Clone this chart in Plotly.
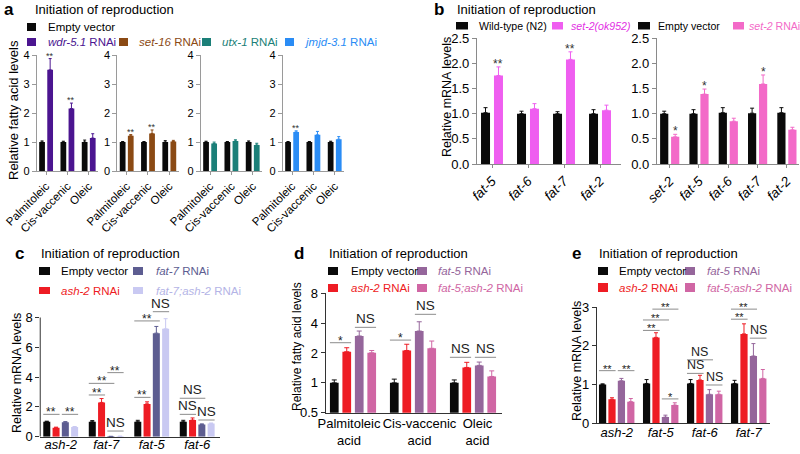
import math
import plotly.graph_objects as go

W, H = 800, 454
FONT = "Liberation Sans, Arial, Helvetica, sans-serif"

# ---------------- colours ----------------
BLACK = "#0a0a0a"
PURPLE_A = "#4b1590"
BROWN = "#8b4a14"
TEAL = "#1b7f78"
BLUE = "#2a8cf5"
MAGENTA = "#ef5ef0"
MAGENTA_T = "#e22ee3"
PINK = "#f36ac8"
RED = "#ee1c24"
SLATE = "#5d5d91"
LAVENDER = "#c9c9f2"
LAVENDER_T = "#b4b4e6"
MAUVE = "#95669b"
PINK2 = "#d066a4"

# ---------------- data: panel a ----------------
a_acids = ["Palmitoleic", "Cis-vaccenic", "Oleic"]
a_rnai_names = ["wdr-5.1", "set-16", "utx-1", "jmjd-3.1"]
a_ev = [[1.0, 1.0, 1.0], [1.0, 1.0, 1.0], [1.0, 1.0, 1.0], [1.0, 1.0, 1.0]]
a_ev_err = [[0.04, 0.03, 0.07], [0.02, 0.02, 0.05], [0.03, 0.02, 0.04], [0.02, 0.02, 0.03]]
a_rnai = [[3.5, 2.16, 1.14], [1.22, 1.3, 1.02], [0.95, 1.04, 0.9], [1.35, 1.25, 1.1]]
a_rnai_err = [[0.39, 0.19, 0.15], [0.04, 0.12, 0.04], [0.05, 0.04, 0.06], [0.04, 0.12, 0.09]]
a_sig = [["**", "**", ""], ["**", "**", ""], ["", "", ""], ["**", "", ""]]
a_yticks = [0, 1, 2, 3, 4]

# ---------------- data: panel b ----------------
b1_genes = ["fat-5", "fat-6", "fat-7", "fat-2"]
b1_wt = [1.02, 1.0, 1.0, 1.0]
b1_wt_err = [0.1, 0.05, 0.04, 0.08]
b1_mut = [1.76, 1.1, 2.08, 1.07]
b1_mut_err = [0.17, 0.1, 0.15, 0.1]
b1_sig = ["**", "", "**", ""]
b2_genes = ["set-2", "fat-5", "fat-6", "fat-7", "fat-2"]
b2_ev = [1.0, 1.0, 1.02, 1.01, 1.02]
b2_ev_err = [0.05, 0.08, 0.1, 0.1, 0.1]
b2_rnai = [0.54, 1.39, 0.85, 1.59, 0.68]
b2_rnai_err = [0.05, 0.1, 0.06, 0.18, 0.05]
b2_sig = ["*", "*", "", "*", ""]
b_yticks = [0, 0.5, 1.0, 1.5, 2.0, 2.5]

# ---------------- data: panel c ----------------
c_genes = ["ash-2", "fat-7", "fat-5", "fat-6"]
c_ev = [1.0, 1.0, 1.0, 1.0]
c_ev_err = [0.04, 0.08, 0.1, 0.1]
c_ash2 = [0.6, 2.3, 2.2, 1.12]
c_ash2_err = [0.04, 0.26, 0.14, 0.14]
c_fat7 = [0.97, 0.02, 6.95, 0.82]
c_fat7_err = [0.04, 0.0, 0.45, 0.04]
c_fat7ash2 = [0.65, 0.03, 7.24, 0.88]
c_fat7ash2_err = [0.03, 0.0, 0.68, 0.04]
# (group, bar i, bar j, level, label)
c_brackets = [
    (0, 0, 1, 1.5, "**"), (0, 2, 3, 1.5, "**"),
    (1, 0, 1, 2.8, "**"), (1, 0, 2, 3.58, "**"), (1, 2, 3, 4.3, "**"), (1, 2, 3, 0.38, "NS"),
    (2, 0, 1, 2.64, "**"), (2, 0, 2, 7.77, "**"), (2, 2, 3, 8.39, "NS"),
    (3, 0, 1, 1.5, "NS"), (3, 0, 2, 2.58, "NS"), (3, 2, 3, 1.12, "NS"),
]
c_yticks = [0, 2, 4, 6, 8]

# ---------------- data: panel d ----------------
d_acids = ["Palmitoleic<br>acid", "Cis-vaccenic<br>acid", "Oleic<br>acid"]
d_ev = [1.0, 1.0, 1.0]
d_ev_err = [0.07, 0.09, 0.07]
d_ash2 = [2.06, 2.12, 1.43]
d_ash2_err = [0.2, 0.33, 0.18]
d_fat5 = [2.97, 3.33, 1.5]
d_fat5_err = [0.36, 0.8, 0.12]
d_fat5ash2 = [2.01, 2.23, 1.16]
d_fat5ash2_err = [0.11, 0.41, 0.16]
d_brackets = [
    (0, 0, 1, 2.54, "*"), (0, 2, 3, 3.63, "NS"),
    (1, 0, 1, 2.7, "*"), (1, 2, 3, 4.91, "NS"),
    (2, 0, 1, 1.81, "NS"), (2, 2, 3, 1.81, "NS"),
]
d_yticks = [0.5, 1, 2, 4, 8]

# ---------------- data: panel e ----------------
e_genes = ["ash-2", "fat-5", "fat-6", "fat-7"]
e_ev = [1.0, 1.03, 1.03, 1.03]
e_ev_err = [0.02, 0.1, 0.1, 0.08]
e_ash2 = [0.62, 2.22, 1.12, 2.31]
e_ash2_err = [0.04, 0.12, 0.12, 0.26]
e_fat5 = [1.1, 0.16, 0.75, 1.74]
e_fat5_err = [0.06, 0.05, 0.12, 0.32]
e_fat5ash2 = [0.56, 0.47, 0.75, 1.16]
e_fat5ash2_err = [0.08, 0.06, 0.08, 0.23]
e_brackets = [
    (0, 0, 1, 1.36, "**"), (0, 2, 3, 1.36, "**"),
    (1, 0, 1, 2.40, "**"), (1, 0, 2, 2.67, "**"), (1, 1, 3, 2.95, "**"), (1, 2, 3, 0.63, "*"),
    (2, 0, 2, 1.64, "NS"), (2, 0, 1, 1.29, "NS"), (2, 2, 3, 0.99, "NS"),
    (3, 0, 2, 2.95, "**"), (3, 0, 1, 2.69, "**"), (3, 2, 3, 2.2, "NS"),
]
e_yticks = [0, 1, 2, 3]

# ---------------- helpers ----------------
fig = go.Figure()
layout_axes = {}
shapes = []
annos = []
counter = [0]


def xdom(c0, s, r):
    return [(c0 + r[0] * s) / W, (c0 + r[1] * s) / W]


def ydom(p0, k, r):
    return [1 - p0 / H, 1 - (p0 - (r[1] - r[0]) * k) / H]


def new_axes(xd, yd, xr, yr, ticktext, ytickvals, yticktext, xfs, yfs, xangle,
             axcolor, xticks, ytype="linear", yline=True, italic=False, xtickvals=None,
             xstandoff=0):
    counter[0] += 1
    sfx = "" if counter[0] == 1 else str(counter[0])
    tt = ["<i>%s</i>" % t for t in ticktext] if italic else list(ticktext)
    tv = xtickvals if xtickvals is not None else list(range(len(ticktext)))
    layout_axes["xaxis" + sfx] = dict(
        domain=xd, range=xr, anchor="y" + sfx, tickmode="array", automargin=False,
        tickvals=tv, ticktext=tt, tickangle=xangle, ticklabelstandoff=xstandoff,
        tickfont=dict(size=xfs, color="black"), showline=True, linecolor=axcolor,
        linewidth=1, ticks="outside" if xticks else "", ticklen=3, tickcolor=axcolor,
        showgrid=False, zeroline=False, fixedrange=True)
    layout_axes["yaxis" + sfx] = dict(
        domain=yd, range=yr, anchor="x" + sfx, type=ytype, tickmode="array", automargin=False,
        tickvals=ytickvals, ticktext=yticktext, tickfont=dict(size=yfs, color="black"),
        showline=yline, linecolor=axcolor, linewidth=1, ticks="outside", ticklen=4,
        tickcolor=axcolor, showgrid=False, zeroline=False, fixedrange=True)
    return "x" + sfx, "y" + sfx


def add_bars(xa, ya, series, sp, w, capw):
    n = len(series)
    for k, (vals, errs, color) in enumerate(series):
        off = (k - (n - 1) / 2) * sp
        fig.add_trace(go.Bar(
            x=list(range(len(vals))), y=vals, width=w, offset=off - w / 2,
            marker=dict(color=color, line=dict(width=0)),
            error_y=dict(type="data", symmetric=False, array=errs,
                         arrayminus=[0] * len(vals), color=color, thickness=1, width=capw),
            xaxis=xa, yaxis=ya, showlegend=False, hoverinfo="skip"))


def add_stars(xa, ya, vals, errs, sig, k, n, sp, fs):
    off = (k - (n - 1) / 2) * sp
    for g, s in enumerate(sig):
        if s:
            annos.append(dict(xref=xa, yref=ya, x=g + off, y=vals[g] + errs[g], text=s,
                              showarrow=False, yanchor="bottom", yshift=-int(fs * 0.55),
                              font=dict(size=fs, color="#333")))


def add_brackets(xa, ya, brackets, n, sp, w, log=False, ns_fs=13.5, star_fs=12):
    for g, i, j, yv, lab in brackets:
        x0 = g + (i - (n - 1) / 2) * sp - w / 2
        x1 = g + (j - (n - 1) / 2) * sp + w / 2
        # shapes take data values; annotations on log axes take log10 values
        ya_anno = math.log10(yv) if log else yv
        shapes.append(dict(type="line", xref=xa, yref=ya, x0=x0, x1=x1, y0=yv, y1=yv,
                           line=dict(color="#8c8c8c", width=1)))
        if lab == "NS":
            fs, ysh = ns_fs, -1
        else:
            fs, ysh = star_fs, -round(star_fs * 0.58)
        annos.append(dict(xref=xa, yref=ya, x=(x0 + x1) / 2, y=ya_anno, text=lab,
                          showarrow=False, yanchor="bottom", yshift=ysh,
                          font=dict(size=fs, color="#222")))


def legend_item(x0, x1, y0, y1, color, text, tcolor, tx, fs):
    shapes.append(dict(type="rect", xref="paper", yref="paper", x0=x0 / W, x1=x1 / W,
                       y0=1 - y1 / H, y1=1 - y0 / H, fillcolor=color, line=dict(width=0)))
    annos.append(dict(xref="paper", yref="paper", x=tx / W, y=1 - (y0 + y1) / 2 / H, text=text,
                      xanchor="left", yanchor="middle", showarrow=False,
                      font=dict(size=fs, color=tcolor)))


def text_at(x, y, text, fs, xanchor="left", angle=0, color="black"):
    annos.append(dict(xref="paper", yref="paper", x=x / W, y=1 - y / H, text=text,
                      xanchor=xanchor, yanchor="middle", showarrow=False, textangle=angle,
                      font=dict(size=fs, color=color)))


def title(xl, xt, y, letter):
    text_at(xl, y, "<b>%s</b>" % letter, 17)
    text_at(xt, y, "Initiation of reproduction", 13)


# ---------------- panel a ----------------
a_colors = [PURPLE_A, BROWN, TEAL, BLUE]
a_c0 = [46.1, 126.7, 210.1, 292.1]
a_xr = [-0.44, 2.46]
a_yr = [0, 4]
for p in range(4):
    xa, ya = new_axes(xdom(a_c0[p], 21.3, a_xr), ydom(171, 28.9, a_yr), a_xr, a_yr,
                      a_acids, a_yticks, [str(v) for v in a_yticks], 11.5, 11, -45,
                      "#9a9a9a", True)
    add_bars(xa, ya, [(a_ev[p], a_ev_err[p], BLACK), (a_rnai[p], a_rnai_err[p], a_colors[p])],
             0.38, 0.27, 1.5)
    add_stars(xa, ya, a_rnai[p], a_rnai_err[p], a_sig[p], 1, 2, 0.38, 9)

title(2, 33, 10, "a")
legend_item(27, 36, 23, 31, BLACK, "Empty vector", "black", 46, 11.5)
a_leg_box = [27, 119, 202, 285]
a_leg_txt = [46, 137, 220, 302]
for p in range(4):
    legend_item(a_leg_box[p], a_leg_box[p] + 9, 38, 46, a_colors[p],
                "<i>%s</i> RNAi" % a_rnai_names[p], a_colors[p], a_leg_txt[p], 11.5)
text_at(13, 110, "Relative fatty acid levels", 13, xanchor="center", angle=-90)

# ---------------- panel b ----------------
b_yr = [0, 2.5]
b_ytt = ["%.1f" % v for v in b_yticks]
xr1 = [-0.42, 3.58]
xa, ya = new_axes(xdom(492, 36, xr1), ydom(164, 50.3, b_yr), xr1, b_yr, b1_genes,
                  b_yticks, b_ytt, 13.5, 13, -45, "#8a8a8a", True, italic=True)
add_bars(xa, ya, [(b1_wt, b1_wt_err, BLACK), (b1_mut, b1_mut_err, MAGENTA)], 0.36, 0.25, 2)
add_stars(xa, ya, b1_mut, b1_mut_err, b1_sig, 1, 2, 0.36, 12)
xr2 = [-0.44, 4.42]
xa, ya = new_axes(xdom(669.7, 29.3, xr2), ydom(164, 50.3, b_yr), xr2, b_yr, b2_genes,
                  b_yticks, b_ytt, 13.5, 13, -45, "#8a8a8a", True, italic=True)
add_bars(xa, ya, [(b2_ev, b2_ev_err, BLACK), (b2_rnai, b2_rnai_err, PINK)], 0.375, 0.28, 2)
add_stars(xa, ya, b2_rnai, b2_rnai_err, b2_sig, 1, 2, 0.375, 12)

title(432, 455, 9, "b")
legend_item(456, 468, 22, 29.5, BLACK, "Wild-type (N2)", "black", 477, 10.6)
legend_item(552, 563, 22, 29.5, MAGENTA, "<i>set-2(ok952)</i>", MAGENTA_T, 569, 10.6)
legend_item(638, 650, 22, 29.5, BLACK, "Empty vector", "black", 656, 10.6)
legend_item(733, 744, 22, 29.5, PINK, "<i>set-2</i> RNAi", PINK, 747, 10.6)
text_at(447, 97, "Relative mRNA levels", 12.5, xanchor="center", angle=-90)

# ---------------- panel c ----------------
c_xr = [-0.45, 3.5]
c_yr = [0, 9.3]
xa, ya = new_axes(xdom(60.7, 45.5, c_xr), ydom(436.7, 14.9, c_yr), c_xr, c_yr, c_genes,
                  c_yticks, [str(v) for v in c_yticks], 13, 13, 0, "#333333", False,
                  yline=False, italic=True, xstandoff=-4)
add_bars(xa, ya, [(c_ev, c_ev_err, BLACK), (c_ash2, c_ash2_err, RED),
                  (c_fat7, c_fat7_err, SLATE), (c_fat7ash2, c_fat7ash2_err, LAVENDER)],
         0.204, 0.154, 2)
add_brackets(xa, ya, c_brackets, 4, 0.204, 0.154)
shapes.append(dict(type="line", xref=xa + " domain", yref=ya, x0=0, x1=0, y0=0, y1=8,
                   line=dict(color="#333333", width=1)))
title(13, 39, 253, "c")
legend_item(39, 50, 267, 275, BLACK, "Empty vector", "black", 59, 11.5)
legend_item(133, 143, 267, 275, SLATE, "<i>fat-7</i> RNAi", SLATE, 154, 11.5)
legend_item(39, 50, 287, 294, RED, "<i>ash-2</i> RNAi", RED, 59, 11.5)
legend_item(133, 143, 287, 294, LAVENDER, "<i>fat-7;ash-2</i> RNAi", LAVENDER_T, 154, 11.5)
text_at(17, 373, "Relative mRNA levels", 12.5, xanchor="center", angle=-90)

# ---------------- panel d ----------------
d_xr = [-0.455, 2.48]
d_yr = [math.log10(0.5), math.log10(8)]
d_label_pos = [-0.067, 1.108, 2.075]
xa, ya = new_axes(xdom(353, 60, d_xr), ydom(412.7, 99.16, d_yr), d_xr, d_yr, d_acids,
                  d_yticks, [str(v) for v in d_yticks], 13, 13, 0, "#333333", False,
                  ytype="log", xtickvals=d_label_pos, xstandoff=-1)
add_bars(xa, ya, [(d_ev, d_ev_err, BLACK), (d_ash2, d_ash2_err, RED),
                  (d_fat5, d_fat5_err, MAUVE), (d_fat5ash2, d_fat5ash2_err, PINK2)],
         0.208, 0.145, 2.5)
add_brackets(xa, ya, d_brackets, 4, 0.208, 0.145, log=True)
title(292, 327, 253, "d")
legend_item(328, 338, 267, 275, BLACK, "Empty vector", "black", 349, 11.5)
legend_item(417, 427, 267, 275, MAUVE, "<i>fat-5</i> RNAi", MAUVE, 436, 11.5)
legend_item(328, 338, 284, 292, RED, "<i>ash-2</i> RNAi", RED, 349, 11.5)
legend_item(417, 427, 284, 292, PINK2, "<i>fat-5;ash-2</i> RNAi", PINK2, 436, 11.5)
text_at(297, 347, "Relative fatty acid levels", 12, xanchor="center", angle=-90)

# ---------------- panel e ----------------
e_xr = [-0.45, 3.48]
e_yr = [0, 3]
xa, ya = new_axes(xdom(616.7, 44, e_xr), ydom(423.3, 38.7, e_yr), e_xr, e_yr, e_genes,
                  e_yticks, [str(v) for v in e_yticks], 13, 13, 0, "#333333", False,
                  italic=True, xstandoff=-3)
add_bars(xa, ya, [(e_ev, e_ev_err, BLACK), (e_ash2, e_ash2_err, RED),
                  (e_fat5, e_fat5_err, MAUVE), (e_fat5ash2, e_fat5ash2_err, PINK2)],
         0.214, 0.164, 2)
add_brackets(xa, ya, e_brackets, 4, 0.214, 0.164, ns_fs=12.5, star_fs=11)
title(570, 597, 253, "e")
legend_item(598, 608, 267, 275, BLACK, "Empty vector", "black", 617, 11.5)
legend_item(685, 695, 267, 275, MAUVE, "<i>fat-5</i> RNAi", MAUVE, 705, 11.5)
legend_item(598, 608, 283, 292, RED, "<i>ash-2</i> RNAi", RED, 617, 11.5)
legend_item(685, 695, 283, 292, PINK2, "<i>fat-5;ash-2</i> RNAi", PINK2, 705, 11.5)
text_at(577, 361, "Relative mRNA levels", 12.5, xanchor="center", angle=-90)

fig.update_layout(
    template="none",
    width=W, height=H, autosize=False, margin=dict(l=0, r=0, t=0, b=0, pad=0),
    paper_bgcolor="white", plot_bgcolor="rgba(0,0,0,0)", barmode="overlay",
    font=dict(family=FONT, color="black"), showlegend=False,
    shapes=shapes, annotations=annos, **layout_axes)

fig.write_html("out.html", post_script="document.body.style.margin='0';",
               config={"displayModeBar": False})
